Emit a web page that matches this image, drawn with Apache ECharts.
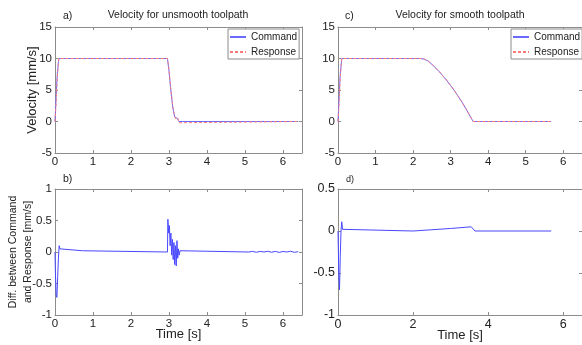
<!DOCTYPE html>
<html>
<head>
<meta charset="utf-8">
<script src="https://cdn.jsdelivr.net/npm/echarts@6/dist/echarts.min.js"></script>
<style>
html,body{margin:0;padding:0;background:#fff;}
#chart{width:582px;height:345px;}
</style>
</head>
<body>
<div id="chart"></div>
<script>
// ---- data ----
// a) unsmooth toolpath velocity
const timeA     = [0, 0.03, 0.06, 0.1, 2.96, 3.0, 3.04, 3.1, 3.15, 3.18, 3.2, 3.22, 3.24, 3.26, 3.3, 6.4];
const commandA  = [0, 4.0, 7.5, 10, 10, 8.0, 5.4, 2.2, 0.7, 0.6, 0.4, 0.5, 0.3, 0.0, 0, 0];
const responseA = [0, 3.0, 7.0, 10, 10, 8.2, 5.6, 2.4, 0.8, 0.4, 0.7, 0.3, 0.5, -0.2, 0, 0];
// c) smooth toolpath velocity
const timeC     = [0, 0.03, 0.06, 0.1, 2.2, 2.3, 2.4, 2.5, 2.6, 2.7, 2.8, 2.9, 3.0, 3.1, 3.2, 3.3, 3.4, 3.5, 3.6, 5.68];
const commandC  = [0, 4.0, 7.5, 10, 10, 9.9, 9.6, 9.1, 8.5, 7.9, 7.2, 6.5, 5.7, 4.9, 4.0, 3.1, 2.1, 1.05, 0, 0];
const responseC = [0, 3.0, 7.0, 10, 10, 9.9, 9.6, 9.1, 8.5, 7.9, 7.2, 6.5, 5.7, 4.9, 4.0, 3.1, 2.1, 1.05, 0, 0];
// b) difference for unsmooth toolpath
const timeB = [0, 0.01, 0.03, 0.05, 0.07, 0.09, 0.11, 0.13, 0.16, 0.72, 0.74, 2.96, 2.97, 2.99, 3.01, 3.03, 3.05, 3.07, 3.09, 3.11, 3.13, 3.15, 3.17, 3.19, 3.21, 3.23, 3.25, 3.27, 3.29, 3.31, 5.1, 5.2, 5.3, 5.4, 5.5, 5.6, 5.7, 5.8, 5.9, 6.0, 6.1, 6.2, 6.3, 6.4];
const diffB = [0, -0.3, -0.68, -0.72, -0.4, -0.1, 0.1, 0.05, 0.02, 0.02, 0, 0, 0.52, 0.3, 0.42, 0.1, 0.3, -0.05, 0.2, -0.12, 0.15, -0.2, 0.1, -0.22, 0.18, -0.1, 0.05, -0.05, 0.02, 0, 0, 0.01, -0.005, 0.01, 0, 0.012, -0.004, 0.01, -0.006, 0.008, 0.0, 0.012, -0.005, 0.005];
// d) difference for smooth toolpath
const timeD = [0, 0.02, 0.04, 0.06, 0.08, 0.1, 0.12, 0.15, 2.0, 2.5, 3.0, 3.55, 3.6, 3.65, 5.68];
const diffD = [0, -0.5, -0.7, -0.3, 0, 0.11, 0.02, 0, 0, 0.015, 0.03, 0.05, 0.05, 0, 0];

const seriesNames = ['Command', 'Response'];
const panelTitles = ['Velocity for unsmooth toolpath', 'Velocity for smooth toolpath'];
const panelLetters = ['a)', 'b)', 'c)', 'd)'];

function pairs(t, v) { return t.map((x, i) => [x, v[i]]); }

const FONT = '"Liberation Sans", Arial, sans-serif';
const frame = '#8c8c8c';
const txt = '#222';

const grids = [
  {left: 55, top: 27, width: 247, height: 126},   // a
  {left: 55, top: 189, width: 247, height: 126},  // b
  {left: 338, top: 27, width: 246, height: 126},  // c
  {left: 338, top: 189, width: 246, height: 126}  // d
];

const xCfg = [
  {min: 0, max: 6.5, interval: 1, fs: 11.5, name: '', gap: 13},
  {min: 0, max: 6.5, interval: 1, fs: 11.5, name: 'Time [s]', gap: 13},
  {min: 0, max: 6.5, interval: 1, fs: 11.5, name: '', gap: 13},
  {min: 0, max: 6.5, interval: 2, fs: 12.5, name: 'Time [s]', gap: 14}
];
const yCfg = [
  {min: -5, max: 15, interval: 5, fs: 11.5, name: 'Velocity [mm/s]', nfs: 13, gap: 14},
  {min: -1, max: 1, interval: 0.5, fs: 11.5, name: 'Diff. between Command\nand Response [mm/s]', nfs: 10.5, gap: 20},
  {min: -5, max: 15, interval: 5, fs: 11.5, name: '', nfs: 12, gap: 15},
  {min: -1, max: 0.5, interval: 0.5, fs: 12.5, name: '', nfs: 12, gap: 15}
];

const xAxes = [], yAxes = [];
grids.forEach((g, i) => {
  const xc = xCfg[i], yc = yCfg[i];
  const common = {
    axisLine: {show: true, onZero: false, lineStyle: {color: frame, width: 1}},
    splitLine: {show: false},
    nameMoveOverlap: false
  };
  xAxes.push(Object.assign({
    type: 'value', gridIndex: i, min: xc.min, max: xc.max, interval: xc.interval, position: 'bottom',
    axisTick: {show: true, inside: true, length: 3, lineStyle: {color: frame}},
    axisLabel: {color: txt, fontSize: xc.fs, fontFamily: FONT, margin: 3, showMaxLabel: false},
    name: xc.name, nameLocation: 'middle', nameGap: xc.gap,
    nameTextStyle: {color: txt, fontSize: 13, fontFamily: FONT}
  }, common));
  xAxes.push(Object.assign({
    type: 'value', gridIndex: i, min: xc.min, max: xc.max, interval: xc.interval, position: 'top',
    axisTick: {show: true, inside: true, length: 3, lineStyle: {color: frame}},
    axisLabel: {show: false}
  }, common));
  yAxes.push(Object.assign({
    type: 'value', gridIndex: i, min: yc.min, max: yc.max, interval: yc.interval, position: 'left',
    axisTick: {show: true, inside: true, length: 3, lineStyle: {color: frame}},
    axisLabel: {color: txt, fontSize: yc.fs, fontFamily: FONT, margin: 3},
    name: yc.name, nameLocation: 'middle', nameGap: yc.gap, nameRotate: 90,
    nameTextStyle: {color: txt, fontSize: yc.nfs, fontFamily: FONT, lineHeight: yc.nfs + 4}
  }, common));
  yAxes.push(Object.assign({
    type: 'value', gridIndex: i, min: yc.min, max: yc.max, interval: yc.interval, position: 'right',
    axisTick: {show: true, inside: true, length: 3, lineStyle: {color: frame}},
    axisLabel: {show: false}
  }, common));
});

const BLUE = '#6a6aff';
const RED = '#ff7a7a';
function velSeries(name, color, dashed, grid, data) {
  return {
    name: name, type: 'line', xAxisIndex: grid * 2, yAxisIndex: grid * 2,
    data: data, symbol: 'none', showSymbol: false, animation: false,
    lineStyle: {color: color, width: 1, type: dashed ? [3, 2] : 'solid'},
    itemStyle: {color: color}, z: dashed ? 3 : 2
  };
}

const series = [
  velSeries(seriesNames[0], BLUE, false, 0, pairs(timeA, commandA)),
  velSeries(seriesNames[1], RED, true, 0, pairs(timeA, responseA)),
  velSeries(seriesNames[0], BLUE, false, 2, pairs(timeC, commandC)),
  velSeries(seriesNames[1], RED, true, 2, pairs(timeC, responseC)),
  {type: 'line', xAxisIndex: 2, yAxisIndex: 2, data: pairs(timeB, diffB), symbol: 'none', animation: false,
   lineStyle: {color: '#4848ff', width: 1}},
  {type: 'line', xAxisIndex: 6, yAxisIndex: 6, data: pairs(timeD, diffD), symbol: 'none', animation: false,
   lineStyle: {color: '#4848ff', width: 1}}
];

function legendAt(left) {
  return {
    data: seriesNames, orient: 'vertical', left: left, top: 29, padding: [3, 2, 2, 1],
    itemWidth: 16, itemHeight: 1, itemGap: 5, selectedMode: false,
    backgroundColor: '#fff', borderColor: frame, borderWidth: 1,
    itemStyle: {opacity: 0},
    textStyle: {color: txt, fontSize: 10, fontFamily: FONT}
  };
}

const tStyle = {color: txt, fontSize: 10.5, fontWeight: 'normal', fontFamily: FONT};
const option = {
  backgroundColor: '#fff',
  animation: false,
  title: [
    {text: panelLetters[0], left: 63, top: 11, padding: 0, textStyle: tStyle},
    {text: panelTitles[0], left: 178, top: 10, padding: 0, textAlign: 'center', textStyle: tStyle},
    {text: panelLetters[1], left: 63, top: 174, padding: 0, textStyle: tStyle},
    {text: panelLetters[2], left: 345, top: 11, padding: 0, textStyle: tStyle},
    {text: panelTitles[1], left: 460, top: 10, padding: 0, textAlign: 'center', textStyle: tStyle},
    {text: panelLetters[3], left: 346, top: 175, padding: 0, textStyle: Object.assign({}, tStyle, {fontSize: 9})}
  ],
  legend: [legendAt(228), legendAt(511)],
  grid: grids.map(g => Object.assign({show: false, containLabel: false}, g)),
  xAxis: xAxes,
  yAxis: yAxes,
  series: series
};

const chart = echarts.init(document.getElementById('chart'), null, {renderer: 'canvas'});
chart.setOption(option);
</script>
</body>
</html>
